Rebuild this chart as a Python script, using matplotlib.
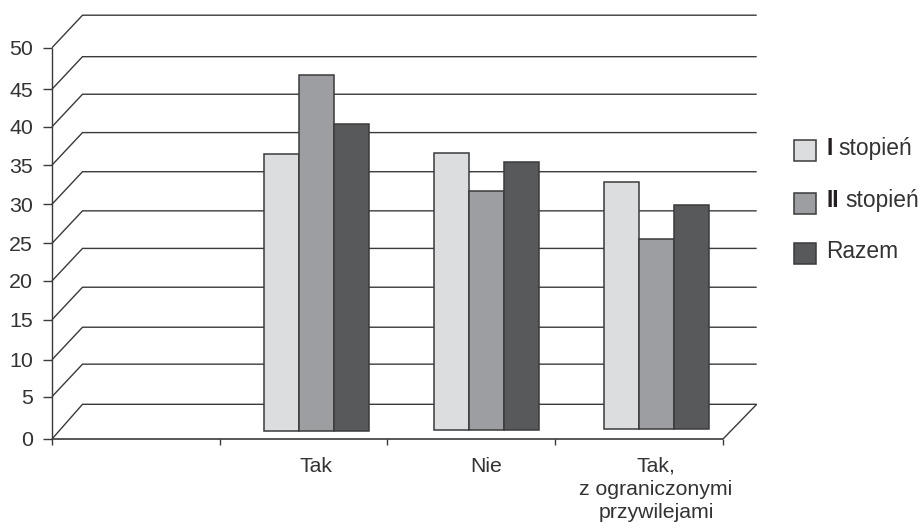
import matplotlib
matplotlib.use('Agg')
import matplotlib.pyplot as plt
from matplotlib.patches import Rectangle

plt.rcParams['font.family'] = ['Liberation Sans', 'DejaVu Sans']

W, H = 920, 522
LINE = '#3a3a3c'
TEXT = '#333335'

categories = ['Tak', 'Nie', 'Tak,\nz ograniczonymi\nprzywilejami']
series_names = ['I stopień', 'II stopień', 'Razem']
series_colors = ['#dcddde', '#9d9ea2', '#58595b']

i_stopien = [35.3, 35.4, 31.5]
ii_stopien = [45.4, 30.6, 24.3]
razem = [39.2, 34.2, 28.6]

tick_labels = ['0', '5', '10', '15', '20', '25', '30', '35', '40', '45', '50']
# skala narysowana recznie, podzialki nie sa calkiem rowne
tick_levels = [0, 5.41, 10.13, 15.24, 20.2, 25.0, 30.0, 35.0, 39.9, 44.7, 50]

fig = plt.figure(figsize=(W / 100, H / 100), dpi=100)
ax = fig.add_axes([52 / W, 1 - 439 / H, (723 - 52) / W, (439 - 47.7) / H])
ax.set_xlim(0, 4)
ax.set_ylim(0, 50)
ax.axis('off')

x_px = (723 - 52) / 4
y_px = (439 - 47.7) / 50
depth_x = 30.5 / x_px
depth_y = 32.5 / y_px
floor_depth = 34.7 / y_px
right_end = 4 + 33.7 / x_px


def seg(xs, ys, lw=1.0):
    ax.plot(xs, ys, color=LINE, lw=lw, clip_on=False, solid_capstyle='butt',
            solid_joinstyle='miter', zorder=1)


# tylna sciana i podloga
for lev in tick_levels:
    top = lev + (floor_depth if lev == 0 else depth_y)
    seg([0, depth_x, right_end], [lev, top, top])
    seg([-9 / x_px, 0], [lev, lev])
seg([0, 0], [0, 50])
seg([0, 4], [0, 0], lw=1.2)
seg([4, right_end], [0, floor_depth])
for i in range(5):
    seg([i, i], [0, -6 / y_px])

bar_w = 35 / x_px
centers = [1.575, 2.589, 3.601]
floors = [1.06, 1.15, 1.28]
for k, vals in enumerate([i_stopien, ii_stopien, razem]):
    xs = [c + (k - 1) * bar_w for c in centers]
    ax.bar(xs, vals, width=bar_w, bottom=floors, color=series_colors[k],
           edgecolor=LINE, linewidth=1.1, zorder=3, clip_on=False)

for lev, lab in zip(tick_levels, tick_labels):
    ax.text(-19 / x_px, lev, lab, ha='right', va='center_baseline', fontsize=15.4,
            color=TEXT, clip_on=False)

for c, lab in zip(centers, categories):
    fig.text(52 / W + c * x_px / W, 1 - 457 / H, lab, ha='center', va='top',
             fontsize=15.3, color=TEXT, linespacing=1.26)

# legenda
leg_tops = [140, 193, 243]
leg_base = [155, 207, 258]
for name, col, top, base in zip(series_names, series_colors, leg_tops, leg_base):
    fig.add_artist(Rectangle((794.5 / W, 1 - (top + 21) / H), 21.5 / W, 21 / H,
                             transform=fig.transFigure, facecolor=col,
                             edgecolor=LINE, linewidth=1.1))
    if name == 'Razem':
        fig.text(826.5 / W, 1 - base / H, name, fontsize=16.4, color=TEXT, va='baseline')
    else:
        num, rest = name.split(' ')
        off = 838 if num == 'I' else 845
        fig.text(826.5 / W, 1 - base / H, num, fontsize=16.4, color='#231f20',
                 fontweight='bold', va='baseline')
        fig.text(off / W, 1 - base / H, rest, fontsize=16.4, color=TEXT, va='baseline')

fig.savefig('out.png', dpi=100)
